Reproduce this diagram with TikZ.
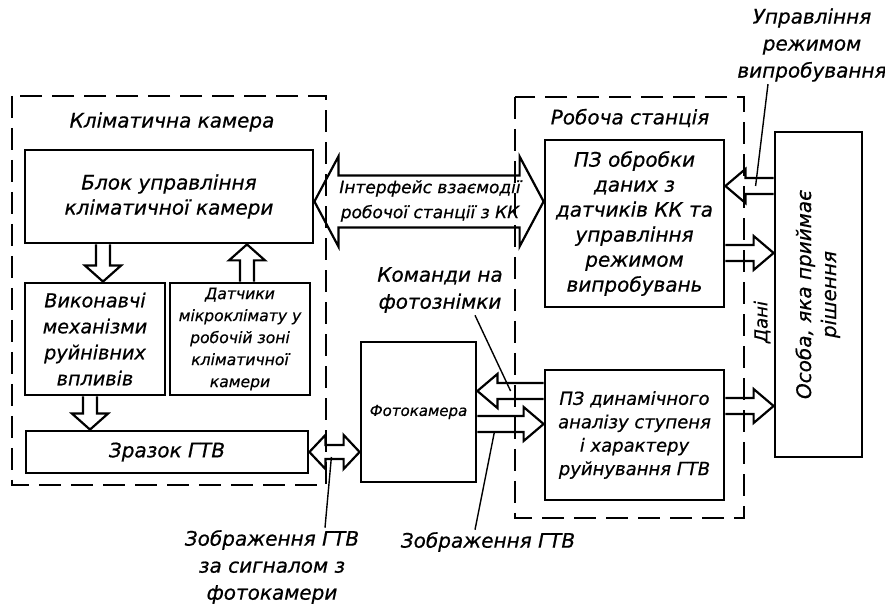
\documentclass[tikz,border=0pt]{standalone}
\usepackage{fontspec}
\setmainfont{DejaVu Sans}[ItalicFeatures = {FakeBold = 0.6}]
\usetikzlibrary{calc}

% hollow block arrow, tail #1, tip #2, shaft half width #3, head half width #4, head length #5
\newcommand{\onearrow}[5]{%
  \draw[blockar] ($(#1)!#3!90:(#2)$) -- ($(#2)!#5!(#1)!#3!-90:(#1)$)
    -- ($(#2)!#5!(#1)!#4!-90:(#1)$) -- (#2) -- ($(#2)!#5!(#1)!#4!90:(#1)$)
    -- ($(#2)!#5!(#1)!#3!90:(#1)$) -- ($(#1)!#3!-90:(#2)$);}
% the same with a head at both ends
\newcommand{\twoarrow}[5]{%
  \draw[blockar] (#1) -- ($(#1)!#5!(#2)!#4!90:(#2)$) -- ($(#1)!#5!(#2)!#3!90:(#2)$)
    -- ($(#2)!#5!(#1)!#3!-90:(#1)$) -- ($(#2)!#5!(#1)!#4!-90:(#1)$) -- (#2)
    -- ($(#2)!#5!(#1)!#4!90:(#1)$) -- ($(#2)!#5!(#1)!#3!90:(#1)$)
    -- ($(#1)!#5!(#2)!#3!-90:(#2)$) -- ($(#1)!#5!(#2)!#4!-90:(#2)$) -- cycle;}

\begin{document}
\begin{tikzpicture}[
      x = .5pt, y = -.5pt,
      box/.style = {
        rectangle, draw, line width = 1.4pt, inner sep = 1pt, align = center,
        font = \fontsize{10}{12.5}\selectfont\itshape},
      lbl/.style = {
        inner sep = 1pt, align = center,
        font = \fontsize{10}{13.5}\selectfont\itshape},
      zone/.style = {line width = .9pt, dash pattern = on 11pt off 5pt},
      blockar/.style = {line width = 1.1pt, line join = miter},
      lead/.style = {line width = .7pt}
      ]
    \useasboundingbox (0,0) rectangle (885,608);
    % climate chamber
    \draw[zone] (12,96) rectangle (326,485);
    \node[lbl] (kk) at (172,122) {Кліматична камера};
    \node[box, minimum width = 144pt, minimum height = 46.5pt] (blk) at (169,196.5)
      {Блок управління\\кліматичної камери};
    \node[box, minimum width = 70pt, minimum height = 56pt,
      font = \fontsize{9.6}{13}\selectfont\itshape] (vyk) at (95,339)
      {Виконавчі\\механізми\\руйнівних\\впливів};
    \node[box, minimum width = 70pt, minimum height = 56pt,
      font = \fontsize{7.8}{11}\selectfont\itshape] (dat) at (240,339)
      {Датчики\\мікроклімату у\\робочій зоні\\кліматичної\\камери};
    \node[box, minimum width = 141pt, minimum height = 21pt] (zr) at (167,452)
      {Зразок ГТВ};
    % camera
    \node[box, minimum width = 57.5pt, minimum height = 70pt,
      font = \fontsize{7.5}{9}\selectfont\itshape] (foto) at (418.5,412) {Фотокамера};
    % work station
    \draw[zone] (515,97) rectangle (744,518);
    \node[lbl] (rs) at (630,118) {Робоча станція};
    \node[box, minimum width = 89.5pt, minimum height = 83.5pt] (pzo) at (634.5,223.5)
      {ПЗ обробки\\даних з\\датчиків КК та\\управління\\режимом\\випробувань};
    \node[box, minimum width = 89.5pt, minimum height = 65pt,
      font = \fontsize{9}{11.7}\selectfont\itshape] (pzd) at (634.5,435)
      {ПЗ динамічного\\аналізу ступеня\\і характеру\\руйнування ГТВ};
    \node[box, minimum width = 43.5pt, minimum height = 162.5pt] (os) at (818.5,294.5)
      {\rotatebox{90}{\begin{tabular}{@{}c@{}}Особа, яка приймає\\рішення\end{tabular}}};
    % block arrows
    \coordinate (a1) at ($(vyk.north)+(8,0)$);
    \coordinate (a2) at ($(dat.north)+(7,0)$);
    \coordinate (a3) at ($(vyk.south)+(-5,0)$);
    \onearrow{a1 |- blk.south}{a1}{3.5pt}{9pt}{8pt}
    \onearrow{a2}{a2 |- blk.south}{3.5pt}{9pt}{8pt}
    \onearrow{a3}{a3 |- zr.north}{3.5pt}{9pt}{8pt}
    \coordinate (a4) at ($(pzd.west)+(0,-44)$);
    \coordinate (a5) at ($(foto.east)+(0,12)$);
    \coordinate (a6) at ($(os.west)+(0,-108.5)$);
    \coordinate (a7) at ($(pzo.east)+(0,29.5)$);
    \coordinate (a8) at ($(pzd.east)+(0,-29)$);
    \onearrow{a4}{a4 -| foto.east}{4pt}{8.5pt}{10pt}
    \onearrow{a5}{a5 -| pzd.west}{4pt}{8.5pt}{10pt}
    \onearrow{a6}{a6 -| pzo.east}{4pt}{8.5pt}{10pt}
    \onearrow{a7}{a7 -| os.west}{4pt}{8.5pt}{10pt}
    \onearrow{a8}{a8 -| os.west}{4pt}{8.5pt}{10pt}
    \coordinate (a9) at ($(blk.east)+(0,5)$);
    \twoarrow{a9}{a9 -| pzo.west}{13pt}{22.5pt}{12pt}
    \twoarrow{zr.east}{zr.east -| foto.west}{3.5pt}{8.5pt}{8pt}
    \node[lbl, font = \fontsize{8.5}{12.5}\selectfont\itshape] (ifc) at (430,201)
      {Інтерфейс взаємодії\\робочої станції з КК};
    % labels
    \node[lbl, rotate = 90, font = \fontsize{9}{11}\selectfont\itshape] (dani) at (762,322) {Дані};
    \node[lbl] (upr) at (812,45) {Управління\\режимом\\випробування};
    \node[lbl] (kom) at (440,290) {Команди на\\фотознімки};
    \node[lbl] (zob1) at (488,542) {Зображення ГТВ};
    \node[lbl] (zob2) at (272,567) {Зображення ГТВ\\за сигналом з\\фотокамери};
    \coordinate (l1) at ($(a6)+(-18,0)$);
    \coordinate (l2) at ($(a4)+(-33,0)$);
    \coordinate (l3) at ($(a5)+(17,8)$);
    \coordinate (l4) at ($(zr.east)+(22,5)$);
    \draw[lead] ([xshift=-22pt]upr.south) -- (l1);
    \draw[lead] ([xshift=17.5pt]kom.south) -- (l2);
    \draw[lead] ([xshift=-6.5pt]zob1.north) -- (l3);
    \draw[lead] ([xshift=26.5pt]zob2.north) -- (l4);
  \end{tikzpicture}
\end{document}
